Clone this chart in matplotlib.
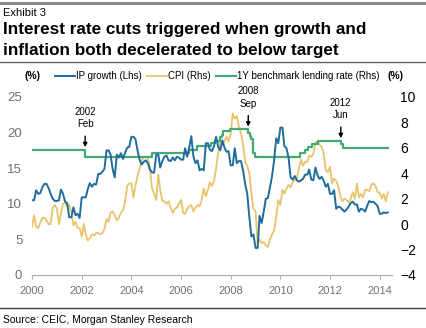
import numpy as np
import pandas as pd
import matplotlib
matplotlib.use('Agg')
import matplotlib.pyplot as plt
from matplotlib.lines import Line2D

plt.rcParams['font.family'] = ['Liberation Sans', 'DejaVu Sans']

# Monthly data, Jan 2000 - May 2014
ip_growth = [
    10.5, 10.5, 11.9, 11.4, 11.5, 12.3, 12.8, 12.8, 12.2, 11.4, 10.7, 10.4,   # 2000
    10.4, 10.5, 12.0, 11.4, 10.3, 10.1, 8.1, 8.1, 9.5, 8.4, 8.6, 8.0,         # 2001
    10.9, 10.9, 10.9, 12.1, 12.9, 12.4, 12.8, 12.7, 14.2, 14.2, 14.5, 14.9,   # 2002
    17.5, 17.5, 16.9, 14.9, 13.7, 16.9, 16.5, 17.1, 16.3, 17.2, 17.9, 18.0,   # 2003
    19.4, 19.4, 19.1, 17.5, 16.2, 15.5, 15.9, 16.1, 15.7, 14.8, 14.4, 14.4,   # 2004
    16.9, 16.9, 15.1, 16.0, 16.6, 16.8, 16.1, 16.0, 16.5, 16.1, 16.6, 16.5,   # 2005
    16.2, 16.2, 17.8, 16.6, 17.9, 19.5, 16.7, 15.7, 16.1, 14.7, 14.9, 14.7,   # 2006
    18.5, 18.5, 17.6, 17.4, 18.1, 19.4, 18.0, 17.5, 18.9, 17.9, 17.3, 17.4,   # 2007
    15.4, 15.4, 17.8, 15.7, 16.0, 16.0, 14.7, 12.8, 11.4, 8.2, 5.4, 5.7,      # 2008
    3.8, 3.8, 8.3, 7.3, 8.9, 10.7, 10.8, 12.3, 13.9, 16.1, 19.2, 18.5,        # 2009
    20.7, 20.7, 18.1, 17.8, 16.5, 13.7, 13.4, 13.9, 13.3, 13.1, 13.3, 13.5,   # 2010
    14.1, 14.1, 14.8, 13.4, 13.3, 15.1, 14.0, 13.5, 13.8, 13.2, 12.4, 12.8,   # 2011
    11.4, 11.4, 11.9, 9.3, 9.6, 9.5, 9.2, 8.9, 9.2, 9.6, 10.1, 10.3,          # 2012
    9.9, 9.9, 8.9, 9.3, 9.2, 8.9, 9.7, 10.4, 10.2, 10.3, 10.0, 9.7,           # 2013
    8.6, 8.6, 8.8, 8.7, 8.8,                                                  # 2014
]
cpi = [
    -0.2, 0.7, -0.2, -0.3, 0.1, 0.5, 0.5, 0.3, 0.0, 0.0, 1.3, 1.5,
    1.2, 0.0, 0.8, 1.6, 1.7, 1.4, 1.5, 1.0, -0.1, 0.2, -0.3, -0.3,
    -1.0, 0.0, -0.8, -1.3, -1.1, -0.8, -0.9, -0.7, -0.7, -0.8, -0.7, -0.4,
    0.4, 0.2, 0.9, 1.0, 0.7, 0.3, 0.5, 0.9, 1.1, 1.8, 3.0, 3.2,
    3.2, 2.1, 3.0, 3.8, 4.4, 5.0, 5.3, 5.3, 5.2, 4.3, 2.8, 2.4,
    1.9, 3.9, 2.7, 1.8, 1.8, 1.6, 1.8, 1.3, 0.9, 1.2, 1.3, 1.6,
    1.9, 0.9, 0.8, 1.2, 1.4, 1.5, 1.0, 1.3, 1.5, 1.4, 1.9, 2.8,
    2.2, 2.7, 3.3, 3.0, 3.4, 4.4, 5.6, 6.5, 6.2, 6.5, 6.9, 6.5,
    7.1, 8.7, 8.3, 8.5, 7.7, 7.1, 6.3, 4.9, 4.6, 4.0, 2.4, 1.2,
    1.0, -1.6, -1.2, -1.5, -1.4, -1.7, -1.8, -1.2, -0.8, -0.5, 0.6, 1.9,
    1.5, 2.7, 2.4, 2.8, 3.1, 2.9, 3.3, 3.5, 3.6, 4.4, 5.1, 4.6,
    4.9, 4.9, 5.4, 5.3, 5.5, 6.4, 6.5, 6.2, 6.1, 5.5, 4.2, 4.1,
    4.5, 3.2, 3.6, 3.4, 3.0, 2.2, 1.8, 2.0, 1.9, 1.7, 2.0, 2.5,
    2.0, 3.2, 2.1, 2.4, 2.1, 2.7, 2.7, 2.6, 3.1, 3.2, 3.0, 2.5,
    2.5, 2.0, 2.4, 1.8, 2.5,
]
months = pd.date_range('2000-01-01', periods=len(ip_growth), freq='MS')

# 1Y benchmark lending rate: change dates and new rate
rate_dates = ['2000-01-01', '2002-02-21', '2004-10-29', '2006-04-28', '2006-08-19',
              '2007-03-18', '2007-05-19', '2007-07-21', '2007-08-22', '2007-09-15',
              '2007-12-21', '2008-09-16', '2008-10-09', '2008-10-30', '2008-11-27',
              '2008-12-23', '2010-10-20', '2010-12-26', '2011-02-09', '2011-04-06',
              '2011-07-07', '2012-06-08', '2012-07-06', '2014-05-01']
lending_rate = [5.85, 5.31, 5.58, 5.85, 6.12, 6.39, 6.57, 6.84, 7.02, 7.29, 7.47,
                7.20, 6.93, 6.66, 5.58, 5.31, 5.56, 5.81, 6.06, 6.31, 6.56, 6.31,
                6.00, 6.00]
rate_dates = pd.to_datetime(rate_dates)

annotations = [('2002-02-21', '2002\nFeb'), ('2008-09-16', '2008\nSep'), ('2012-06-08', '2012\nJun')]

blue = '#1e6d9c'
tan = '#e8c46c'
green = '#45a874'
grey = '#707070'

fig = plt.figure(figsize=(4.27, 3.28), dpi=100)
ax = fig.add_axes([0.075, 0.1616, 0.843, 0.5427])
ax2 = ax.twinx()

ax.plot(months, ip_growth, color=blue, lw=1.4, zorder=3)
ax2.plot(months, cpi, color=tan, lw=1.3, zorder=2)
ax2.step(rate_dates, lending_rate, where='post', color=green, lw=1.6, zorder=4)

ax.set_ylim(0, 25)
ax2.set_ylim(-4, 10)
ax.set_xlim(pd.Timestamp('2000-01-01'), pd.Timestamp('2014-07-01'))
ax.set_yticks([0, 5, 10, 15, 20, 25])
ax2.set_yticks([-4, -2, 0, 2, 4, 6, 8, 10])
ax.set_xticks(pd.to_datetime([f'{y}-01-01' for y in range(2000, 2015, 2)]))
ax.set_xticklabels([str(y) for y in range(2000, 2015, 2)])

for a in (ax, ax2):
    for s in ('top', 'left', 'right'):
        a.spines[s].set_visible(False)
    a.spines['bottom'].set_color('#b0b0b0')
ax.tick_params(axis='y', length=0, labelsize=9.5, labelcolor=grey, pad=7)
ax.tick_params(axis='x', length=3, color='#b0b0b0', labelsize=8, labelcolor=grey, pad=5)
ax2.tick_params(axis='y', length=0, labelsize=10, labelcolor='black', pad=6)

# The twin axes sits over the left one; keep the blue line on top
ax.set_zorder(ax2.get_zorder() + 1)
ax.patch.set_visible(False)

for d, label in annotations:
    d = pd.Timestamp(d)
    r = lending_rate[list(rate_dates).index(d) - 1]
    ax2.annotate(label, xy=(d, r + 0.2), xytext=(0, 13), textcoords='offset points',
                 ha='center', va='bottom', fontsize=7, linespacing=1.3,
                 arrowprops=dict(arrowstyle='-|>', color='black', lw=1.0,
                                 mutation_scale=6, shrinkA=3, shrinkB=0))

handles = [Line2D([], [], color=blue, lw=1.4),
           Line2D([], [], color=tan, lw=1.3),
           Line2D([], [], color=green, lw=1.6)]
labels = ['IP growth (Lhs)', 'CPI (Rhs)', '1Y benchmark lending rate (Rhs)']
fig.legend(handles, labels, loc='center left', bbox_to_anchor=(0.118, 0.768), ncol=3,
           frameon=False, fontsize=7, handlelength=2.0, handletextpad=0.1,
           columnspacing=0.6, borderpad=0)
fig.text(0.058, 0.768, '(%)', fontsize=7.5, fontweight='bold', ha='left', va='center')
fig.text(0.908, 0.768, '(%)', fontsize=7.5, fontweight='bold', ha='left', va='center')

# Header and footer
fig.add_artist(Line2D([0, 1], [0.991, 0.991], color='#8a8a8a', lw=2.2))
fig.text(0.008, 0.960, 'Exhibit 3', fontsize=8, va='center')
fig.text(0.008, 0.910, 'Interest rate cuts triggered when growth and', fontsize=12.3,
         fontweight='bold', va='center')
fig.text(0.008, 0.846, 'inflation both decelerated to below target', fontsize=12.3,
         fontweight='bold', va='center')
fig.add_artist(Line2D([0, 1], [0.81, 0.81], color='#606060', lw=1.0))
fig.add_artist(Line2D([0, 1], [0.062, 0.062], color='#404040', lw=1.0))
fig.text(0.008, 0.025, 'Source: CEIC, Morgan Stanley Research', fontsize=7.5, va='center')

fig.savefig('out.png', dpi=100)
